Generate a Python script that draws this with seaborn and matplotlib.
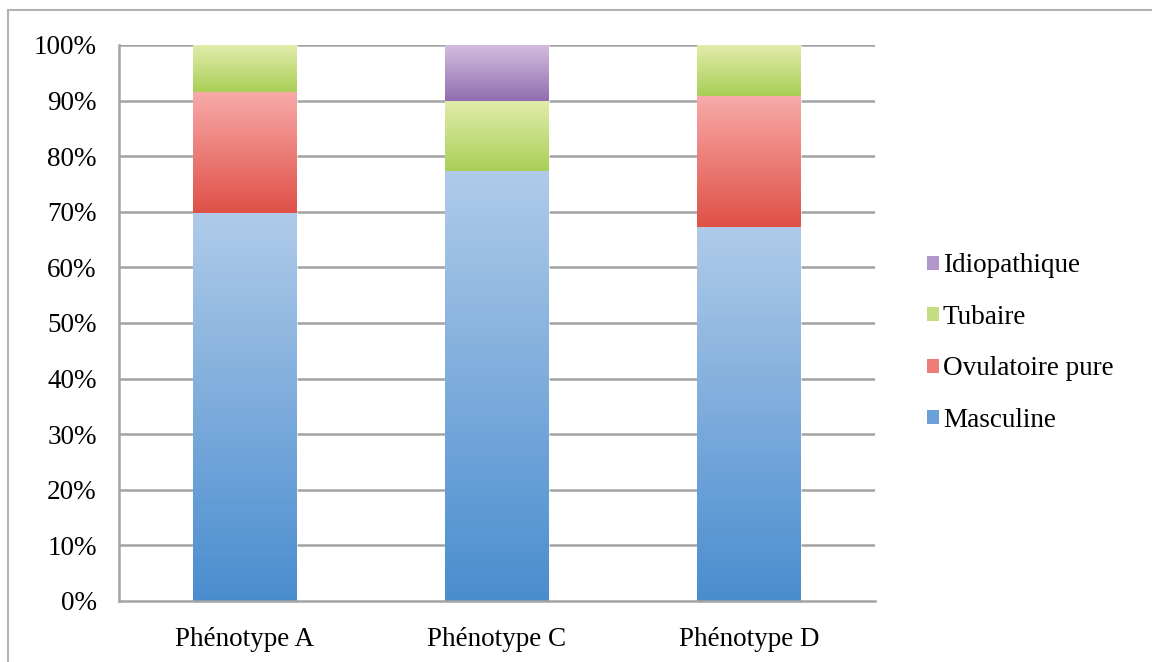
import numpy as np
import matplotlib
matplotlib.use("Agg")
import matplotlib.pyplot as plt
from matplotlib.colors import LinearSegmentedColormap
from matplotlib.lines import Line2D
from matplotlib.patches import Patch
import seaborn as sns

categories = ["Phénotype A", "Phénotype C", "Phénotype D"]
series_names = ["Masculine", "Ovulatoire pure", "Tubaire", "Idiopathique"]
masculine = [69.8, 77.4, 67.3]
ovulatoire = [21.8, 0.0, 23.6]
tubaire = [8.4, 12.5, 9.1]
idiopathique = [0.0, 10.1, 0.0]
yticks = [0, 10, 20, 30, 40, 50, 60, 70, 80, 90, 100]

# (top colour, bottom colour) gradients, like the original office chart
gradients = {
    "Masculine": ("#b0cbe9", "#4a8dcf"),
    "Ovulatoire pure": ("#f8abaa", "#df5046"),
    "Tubaire": ("#e2ecab", "#a9cf57"),
    "Idiopathique": ("#d4bfde", "#916daf"),
}
legend_colors = {
    "Masculine": "#6a9fd9",
    "Ovulatoire pure": "#ee7b75",
    "Tubaire": "#c3dd80",
    "Idiopathique": "#b197c9",
}

sns.set_style("white")
plt.rcParams["font.family"] = ["Liberation Serif", "DejaVu Serif"]
plt.rcParams["text.color"] = "black"
plt.rcParams["xtick.labelcolor"] = "black"
plt.rcParams["ytick.labelcolor"] = "black"

FS = 19.5

fig = plt.figure(figsize=(11.52, 6.62), dpi=100)
W, H = 1152, 662
ax = fig.add_axes([119 / W, (H - 601) / H, (875 - 119) / W, (601 - 45) / H])

grid_c = "#a3a3a3"
for v in yticks[1:]:
    ax.axhline(v, color=grid_c, lw=1.8, zorder=0)

data = [masculine, ovulatoire, tubaire, idiopathique]
bottom = np.zeros(len(categories))
for name, vals in zip(series_names, data):
    n_before = len(ax.patches)
    sns.barplot(x=categories, y=vals, ax=ax, width=0.41, color=legend_colors[name],
                zorder=2, err_kws={"linewidth": 0})
    new = ax.patches[n_before:]
    for p, b, v in zip(new, bottom, vals):
        p.set_y(b)
        p.set_height(v)
        if v <= 0:
            p.set_visible(False)
            continue
        top_c, bot_c = gradients[name]
        cmap = LinearSegmentedColormap.from_list(name, [bot_c, top_c])
        grad = np.linspace(0, 1, 256).reshape(-1, 1)
        x0 = p.get_x()
        im = ax.imshow(grad, extent=[x0, x0 + p.get_width(), b, b + v], origin="lower",
                       aspect="auto", cmap=cmap, zorder=3)
        im.set_clip_path(p)
        p.set_facecolor("none")
        p.set_edgecolor((1, 1, 1, 0.6))
        p.set_linewidth(0.8)
    bottom = bottom + np.array(vals)

ax.set_xlim(-0.5, 2.5)
ax.set_ylim(0, 100)
ax.set_aspect("auto")
ax.set_yticks(yticks)
ax.set_yticklabels([f"{v}%" for v in yticks])
ax.set_xticks(range(len(categories)))
ax.set_xticklabels(categories)
ax.set_xticks([-0.5, 0.5, 1.5, 2.5], minor=True)
ax.tick_params(axis="x", which="major", length=0, pad=19, labelsize=FS)
ax.tick_params(axis="x", which="minor", length=5, width=1.5, color=grid_c, direction="out")
ax.tick_params(axis="y", length=5, width=1.5, color=grid_c, direction="out", pad=11, labelsize=FS)
ax.set_xlabel("")
ax.set_ylabel("")
for s in ["top", "right"]:
    ax.spines[s].set_visible(False)
for s in ["left", "bottom"]:
    ax.spines[s].set_color(grid_c)
    ax.spines[s].set_linewidth(1.8)
    ax.spines[s].set_zorder(4)

handles = [Patch(facecolor=legend_colors[n], edgecolor="none") for n in reversed(series_names)]
fig.legend(handles, list(reversed(series_names)), loc="center left",
           bbox_to_anchor=(903 / W, 1 - 343 / H), frameon=False, fontsize=FS,
           handlelength=0.42, handleheight=0.42, handletextpad=0.15, labelspacing=0.98)

# outer frame of the original picture (top and left edges)
fig.add_artist(Line2D([8 / W, 1.0], [1 - 10 / H, 1 - 10 / H], color="#b3b3b3", lw=1.5))
fig.add_artist(Line2D([8 / W, 8 / W], [0.0, 1 - 10 / H], color="#b3b3b3", lw=1.5))

fig.savefig("out.png", dpi=100)
